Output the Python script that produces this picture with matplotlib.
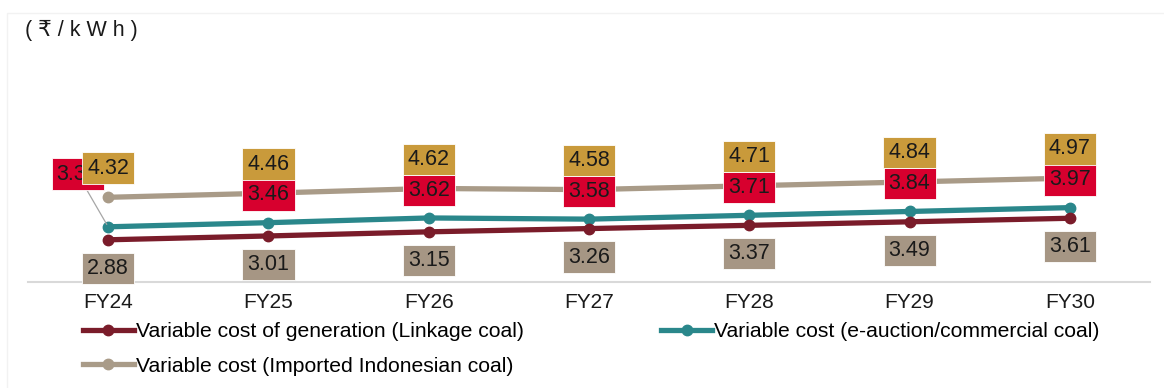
"""
Variable cost of generation by coal source, FY24-FY30 (₹/kWh).
Three lines with boxed data labels, legend below the axis.
"""

import numpy as np
import matplotlib.pyplot as plt
from matplotlib.patches import Rectangle

# ── Data ──────────────────────────────────────────────────────────────
years = ["FY24", "FY25", "FY26", "FY27", "FY28", "FY29", "FY30"]
linkage = [2.88, 3.01, 3.15, 3.26, 3.37, 3.49, 3.61]
eauction = [3.32, 3.46, 3.62, 3.58, 3.71, 3.84, 3.97]
imported = [4.32, 4.46, 4.62, 4.58, 4.71, 4.84, 4.97]

name_linkage = "Variable cost of generation (Linkage coal)"
name_eauction = "Variable cost (e-auction/commercial coal)"
name_imported = "Variable cost (Imported Indonesian coal)"

# ── Style ─────────────────────────────────────────────────────────────
plt.rcParams["font.family"] = ["Liberation Sans", "DejaVu Sans"]
C_LINK = "#7A1C2A"
C_EAUC = "#2A878B"
C_IMP = "#A99B88"
BOX_GOLD = "#C99A3B"
BOX_RED = "#D7002E"
BOX_GREY = "#A69684"

W, H = 1164, 388
fig = plt.figure(figsize=(W / 100, H / 100), dpi=100, facecolor="white")
ax = fig.add_axes([28 / W, 1 - 282 / H, (1150 - 28) / W, (282 - 40) / H])

# faint outer frame
fig.patches.append(Rectangle((7 / W, 1 - 13 / H), 1.2, -1.2, transform=fig.transFigure,
                             fill=False, edgecolor="#F2F2F2", lw=1.0))

x = np.arange(len(years))
lw, ms = 3.8, 7.5
ax.plot(x, imported, color=C_IMP, lw=lw, marker="o", ms=ms, label=name_imported, zorder=2)
ax.plot(x, eauction, color=C_EAUC, lw=lw, marker="o", ms=ms, label=name_eauction, zorder=2)
ax.plot(x, linkage, color=C_LINK, lw=lw, marker="o", ms=ms, label=name_linkage, zorder=2)

ax.set_xlim(-0.5, len(years) - 0.5)
ax.set_ylim(1.45, 9.65)

# ── Data labels ──────────────────────────────────────────────────────
def box(fc):
    return dict(boxstyle="square,pad=0.24", fc=fc, ec="white", lw=0.6)

lbl_kw = dict(textcoords="offset points", ha="center", va="center", fontsize=15.5,
              color="#1a1a1a")

for i, v in enumerate(eauction):
    if i == 0:
        ax.annotate(f"{v:.2f}", (x[i], v), xytext=(-22, 38), bbox=box(BOX_RED),
                    arrowprops=dict(arrowstyle="-", color="#A6A6A6", lw=0.9,
                                    shrinkA=0, shrinkB=2),
                    zorder=4, **lbl_kw)
    else:
        ax.annotate(f"{v:.2f}", (x[i], v), xytext=(0, 20), bbox=box(BOX_RED),
                    zorder=4, **lbl_kw)

for i, v in enumerate(imported):
    ax.annotate(f"{v:.2f}", (x[i], v), xytext=(0, 21), bbox=box(BOX_GOLD),
                zorder=5, **lbl_kw)

for i, v in enumerate(linkage):
    ax.annotate(f"{v:.2f}", (x[i], v), xytext=(0, -20.5), bbox=box(BOX_GREY),
                zorder=4, **lbl_kw)

# ── Axes cosmetics ───────────────────────────────────────────────────
ax.set_xticks(x)
ax.set_xticklabels(years, fontsize=15, color="#1a1a1a")
ax.tick_params(axis="x", length=0, pad=8)
ax.set_yticks([])
for s in ["top", "left", "right"]:
    ax.spines[s].set_visible(False)
ax.spines["bottom"].set_color("#D9D9D9")
ax.spines["bottom"].set_linewidth(1.5)

fig.text(25 / W, 1 - 30 / H, "( ₹ / k W h )", fontsize=15.5, color="#1a1a1a",
         ha="left", va="center")

# ── Legend ───────────────────────────────────────────────────────────
h, l = ax.get_legend_handles_labels()
order = [2, 0, 1]  # linkage, imported | e-auction
fig.legend([h[k] for k in order], [l[k] for k in order], ncol=2, frameon=False,
           loc="upper left", bbox_to_anchor=(83 / W, 1 - 322 / H),
           borderpad=0, borderaxespad=0, fontsize=15.2, handlelength=2.4,
           handletextpad=0.12, columnspacing=6.5, labelspacing=0.75)

fig.savefig("out.png", dpi=100, facecolor="white")
plt.close(fig)
